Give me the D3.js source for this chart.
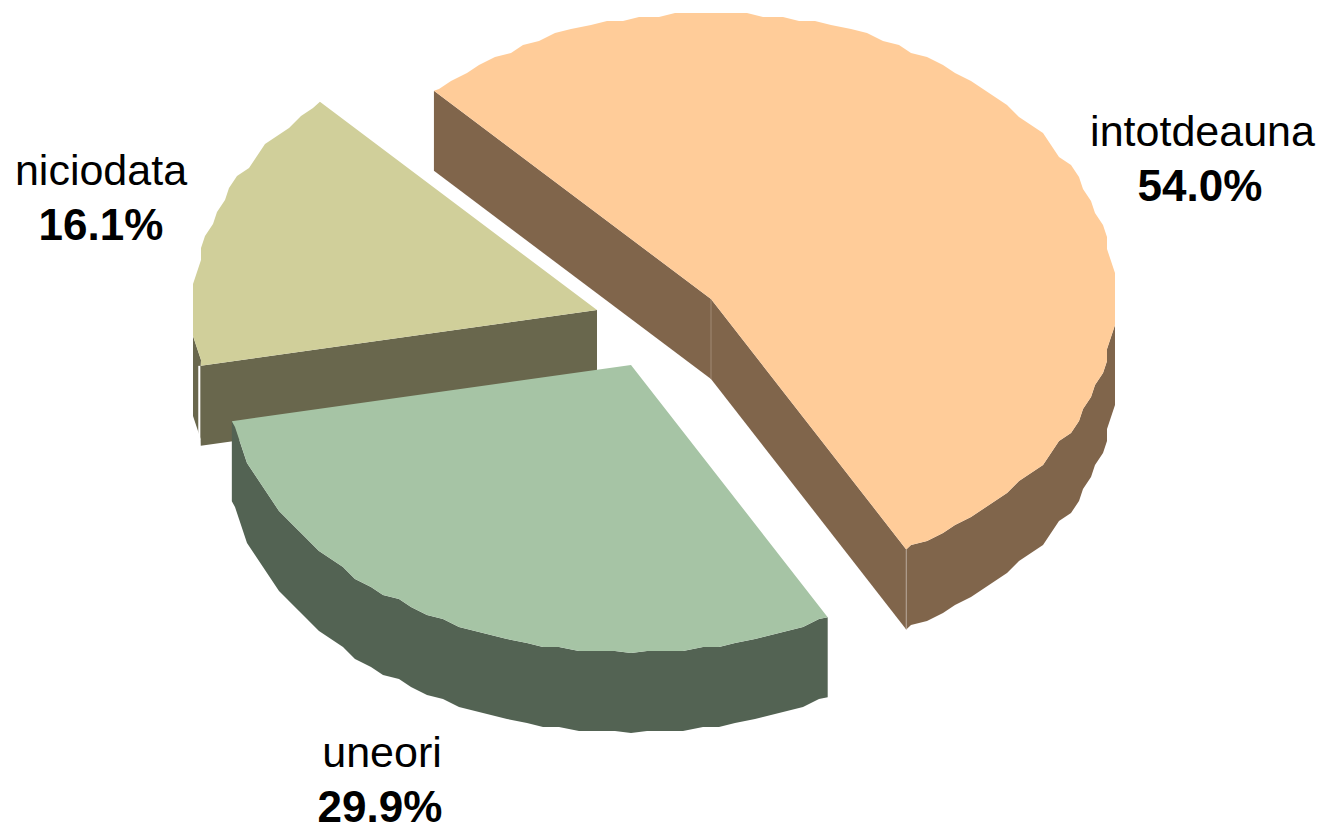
<!DOCTYPE html>
<html><head><meta charset="utf-8">
<style>html,body{margin:0;padding:0;background:#fff;overflow:hidden}</style>
<script src="https://cdn.jsdelivr.net/npm/d3@7"></script></head>
<body><svg id="c" width="1319" height="824"></svg>
<script>
const categories = ["intotdeauna", "uneori", "niciodata"];
const values = [54.0, 29.9, 16.1];
const valueLabels = ["54.0%", "29.9%", "16.1%"];

// layout, separate from the data
const DEPTH = 80, GRID = 4, STEP = 2.5*Math.PI/180;
const radiiX = [404,407,404];
const radiiY = [286,288,286];
const topColors = ["#FFCC99", "#A6C4A5", "#D0CF9A"];
const wallColors = ["#80654B", "#536353", "#69674D"];
const apex = [[711,299],[631,365],[597,310]];
const labelPos = [[1202.5,146,1200,201],[382,767,380,822],[101,185,101,240]];
const drawOrder = [2,0,1];

const svg = d3.select("#c");
const arcs = d3.pie().sort(null).value(d=>d)
  .startAngle(-43.3*Math.PI/180).endAngle(316.7*Math.PI/180)(values);

function rim(a0, a1, c, rx, ry){
  const qx = v => Math.round(v/GRID)*GRID;
  const qy = v => Math.max(-ry, Math.min(ry, Math.round((v+2)/GRID)*GRID-2));
  const first = Math.ceil((a0+1e-6)/STEP), last = Math.floor((a1-1e-6)/STEP);
  const inner = d3.range(first,last+1).map(k=>{
    const a = k*STEP;
    return [qx(rx*Math.sin(a))+c[0], qy(-ry*Math.cos(a))+c[1]];
  });
  const exact = a => [c[0]+rx*Math.sin(a), c[1]-ry*Math.cos(a)];
  return [exact(a0), ...inner, exact(a1)];
}
const line = d3.line();
const closed = p => line(p)+"Z";
const down = p => [p[0],p[1]+DEPTH];

drawOrder.forEach(i=>{
  const d = arcs[i], c = apex[i], g = svg.append("g"), rx = radiiX[i], ry = radiiY[i];
  const a0 = d.startAngle, a1 = d.endAngle;
  const pts = rim(a0,a1,c,rx,ry);
  const lo = Math.max(a0, Math.PI/2), hi = Math.min(a1, 3*Math.PI/2);
  if (hi>lo){
    const r = rim(lo,hi,c,rx,ry);
    g.append("path").attr("fill",wallColors[i])
      .attr("d",closed(r.concat(r.slice().reverse().map(down))));
  }
  const first = pts[0], last = pts[pts.length-1];
  if (i===0){
    g.append("path").attr("fill",wallColors[i]).attr("d",closed([first,c,down(c),down(first)]));
    g.append("path").attr("fill",wallColors[i]).attr("d",closed([c,last,down(last),down(c)]));
    g.append("path").attr("stroke","#A08A75").attr("stroke-width",1).attr("d",line([c,down(c)]));
    g.append("path").attr("stroke","#B5A595").attr("stroke-width",1).attr("d",line([last,down(last)]));
  }
  if (i===2){
    const p = first;
    g.append("path").attr("stroke","#fff").attr("stroke-width",2)
      .attr("d",line([[p[0]-1.5,p[1]],[p[0]-1.5,p[1]+DEPTH+4]]));
    g.append("path").attr("fill",wallColors[i]).attr("d",closed([c,first,down(first),down(c)]));
  }
  g.append("path").attr("fill",topColors[i]).attr("d",closed([c].concat(pts)));
});

const font = "'Liberation Sans', Arial, sans-serif";
categories.forEach((t,i)=>{
  const [x1,y1,x2,y2] = labelPos[i];
  svg.append("text").attr("x",x1).attr("y",y1).attr("text-anchor","middle")
    .attr("font-family",font).attr("font-size",43).attr("fill","#000").text(t);
  svg.append("text").attr("x",x2).attr("y",y2).attr("text-anchor","middle")
    .attr("font-family",font).attr("font-size",44).attr("font-weight","bold").attr("fill","#000").text(valueLabels[i]);
});
</script></body></html>
